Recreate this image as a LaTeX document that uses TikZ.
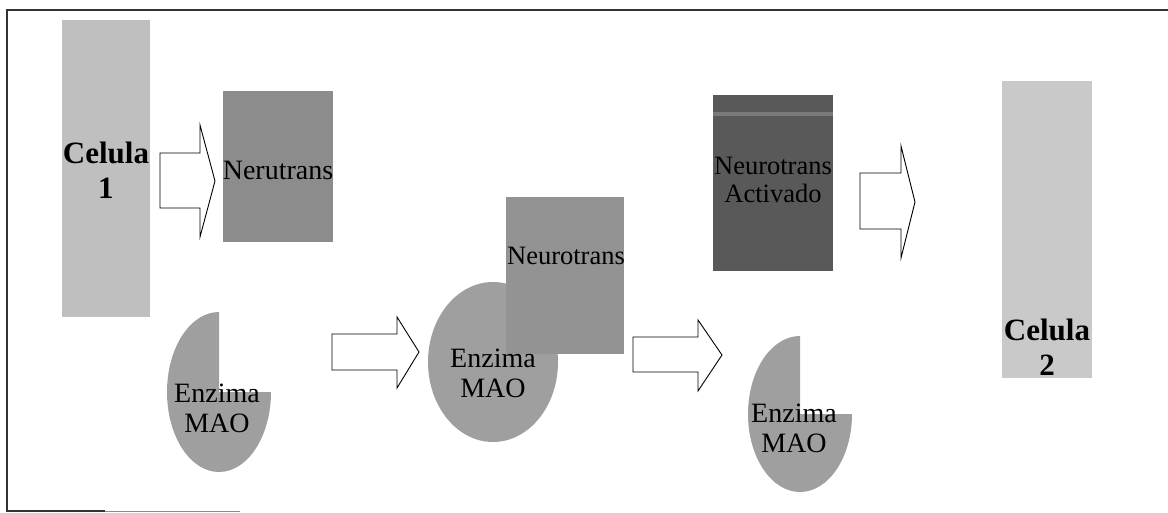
\documentclass[tikz,border=0pt]{standalone}
\usepackage{fontspec}
\setmainfont{Liberation Serif}
\begin{document}
\begin{tikzpicture}[x=1pt,y=-1pt,
  lbl/.style={align=center,font=\fontsize{28}{30}\selectfont,inner sep=0pt},
  lblsm/.style={align=center,font=\fontsize{26.5}{28}\selectfont,inner sep=0pt},
  bold/.style={align=center,font=\fontsize{31}{35}\selectfont\bfseries,inner sep=0pt},
  cellbox/.style={fill=#1,draw=none},
  blockarrow/.style={draw=black,line width=0.9pt,fill=white,line join=miter},
  enz/.style={fill=gray!75,draw=none}]
\useasboundingbox (0,0) rectangle (1168,513);
% frame
\draw[line width=1.2pt,black!80] (1168,10) -- (7,10) -- (7,511) -- (105,511);
\draw[line width=1pt,black!45] (105,511) -- (240,511);

% Celula 1
\fill[cellbox=gray!50] (62,20) rectangle (150,317);
\node[bold] (c1) at (106,170) {Celula\\1};

% arrow 1
\draw[blockarrow] (160,153) -- (200,153) -- (200,125) -- (215,181) -- (200,237) -- (200,208) -- (160,208) -- cycle;

% Nerutrans
\fill[cellbox=gray!90] (223,91) rectangle (333,242);
\node[lbl] (nt1) at (278,170) {Nerutrans};

% Enzima 1 (pie)
\fill[enz] (219,392) -- ++(52,0) arc[start angle=0,end angle=270,x radius=52,y radius=80] -- cycle;
\node[lbl] (e1) at (217,408) {Enzima\\MAO};

% arrow 2
\draw[blockarrow] (332,334) -- (397,334) -- (397,317) -- (419,352) -- (397,388) -- (397,370) -- (332,370) -- cycle;

% middle complex
\fill[enz] (493,362) ellipse[x radius=65,y radius=80];
\fill[cellbox=gray!85] (506,197) rectangle (624,354);
\node[lblsm] (nt2) at (566,256) {Neurotrans};
\node[lbl] (e2) at (493,373) {Enzima\\MAO};

% arrow 3
\draw[blockarrow] (633,337) -- (698,337) -- (698,320) -- (722,355) -- (698,391) -- (698,372) -- (633,372) -- cycle;

% Neurotrans Activado
\fill[cellbox=gray!70!black] (713,95) rectangle (833,271);
\fill[gray!95!black] (713,112) rectangle (833,116);
\node[lblsm] (nt3) at (773,180) {Neurotrans\\Activado};

% arrow 4
\draw[blockarrow] (860,173) -- (901,173) -- (901,146) -- (915,202) -- (901,258) -- (901,229) -- (860,229) -- cycle;

% Enzima 3 (pie)
\fill[enz] (800,414) -- ++(52,0) arc[start angle=0,end angle=270,x radius=52,y radius=78] -- cycle;
\node[lbl] (e3) at (794,428) {Enzima\\MAO};

% Celula 2
\fill[cellbox=gray!42] (1002,81) rectangle (1092,378);
\node[bold] (c2) at (1047,347) {Celula\\2};
\end{tikzpicture}
\end{document}
